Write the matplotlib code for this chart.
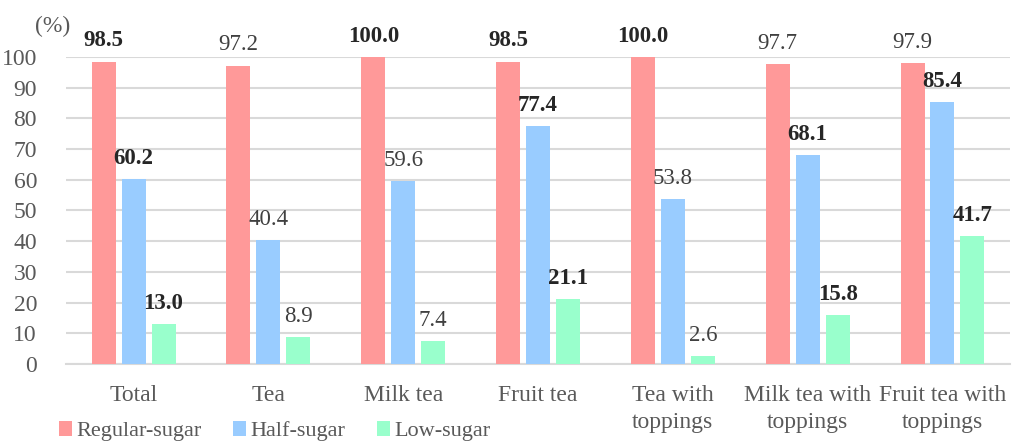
import matplotlib
matplotlib.use("Agg")
import matplotlib.pyplot as plt
import numpy as np

categories = ["Total", "Tea", "Milk tea", "Fruit tea", "Tea with\ntoppings",
              "Milk tea with\ntoppings", "Fruit tea with\ntoppings"]
regular = [98.5, 97.2, 100.0, 98.5, 100.0, 97.7, 97.9]
half = [60.2, 40.4, 59.6, 77.4, 53.8, 68.1, 85.4]
low = [13.0, 8.9, 7.4, 21.1, 2.6, 15.8, 41.7]
regular_bold = [True, False, True, True, True, False, False]
half_bold = [True, False, False, True, False, True, True]
low_bold = [True, False, False, True, False, True, True]
series_names = ["Regular-sugar", "Half-sugar", "Low-sugar"]
colors = ["#FF9999", "#99CCFF", "#99FFCC"]

plt.rcParams['font.family'] = ['Liberation Serif', 'DejaVu Serif']

fig = plt.figure(figsize=(10.18, 4.47), dpi=100)
ax = fig.add_axes([0.065, 0.1857, 0.927, 0.6868])

x = np.arange(len(categories))
w = 0.178
step = 0.222
series = [regular, half, low]
bolds = [regular_bold, half_bold, low_bold]
for i, (vals, bl, c, name) in enumerate(zip(series, bolds, colors, series_names)):
    pos = x + (i - 1) * step
    ax.bar(pos, vals, width=w, color=c, label=name, zorder=3)
    for p, v, b in zip(pos, vals, bl):
        ax.text(p, v + 3.3, f"{v:.1f}", ha='center', va='bottom', fontsize=16.5,
                color='#262626' if b else '#404040',
                fontweight='bold' if b else 'normal', clip_on=False)

ax.set_xlim(-0.5, len(categories) - 0.5)
ax.set_ylim(0, 100)
ax.set_yticks(range(0, 101, 10))
ax.yaxis.grid(True, color='#D9D9D9', linewidth=1.5, zorder=0)
ax.set_axisbelow(True)
for s in ['top', 'right', 'left']:
    ax.spines[s].set_visible(False)
ax.spines['bottom'].set_color('#D9D9D9')
ax.spines['bottom'].set_linewidth(1.5)
ax.tick_params(axis='both', length=0, labelsize=17, labelcolor='#595959')
ax.tick_params(axis='y', pad=21)
ax.tick_params(axis='x', pad=15)
ax.set_xticks(x)
ax.set_xticklabels(categories, linespacing=1.4)

fig.text(0.052, 0.94, "(%)", fontsize=17, color='#595959', ha='center', va='center')

fig.legend(loc='lower left', bbox_to_anchor=(0.038, -0.032), ncol=3, frameon=False,
           fontsize=16, labelcolor='#595959', handlelength=0.6, handleheight=0.6,
           handletextpad=0.2, columnspacing=1.4)

fig.savefig("out.png", dpi=100)
